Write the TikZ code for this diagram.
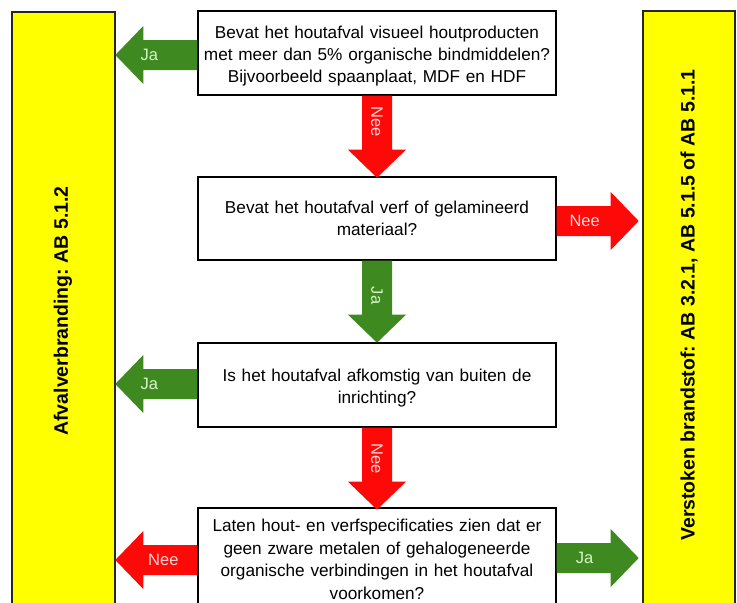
\documentclass[tikz,border=0pt]{standalone}
\usepackage{fontspec}
\setmainfont{Liberation Sans}
\usetikzlibrary{calc}
\frenchspacing
\definecolor{arrgreen}{RGB}{62,138,32}
\definecolor{arrred}{RGB}{255,8,8}
\definecolor{ylw}{RGB}{255,255,0}
\definecolor{jatext}{RGB}{215,245,200}
\definecolor{neetext}{RGB}{255,215,215}
\tikzset{
  qbox/.style={draw=black, line width=1.4pt, fill=white, minimum width=358pt, inner sep=0pt},
  qtext/.style={text width=356pt, align=center, inner sep=0pt,
    font=\fontsize{17.2}{22}\selectfont},
  outbox/.style={draw=black!85, line width=1.6pt, fill=ylw, inner sep=0pt},
  outlabel/.style={rotate=90, font=\fontsize{19.5}{22}\selectfont\bfseries},
  arrlabel/.style={font=\fontsize{16.5}{18}\selectfont},
  jalabel/.style={arrlabel, text=jatext},
  neelabel/.style={arrlabel, text=neetext},
}
% #1 colour, #2 start point, #3 angle, #4 label distance, #5 label style, #6 text
\newcommand\blockarrow[6]{%
  \begin{scope}[shift={(#2)}, rotate=#3]
    \fill[#1] (0,-15) -- (54,-15) -- (54,-29) -- (82,0) -- (54,29) -- (54,15) -- (0,15) -- cycle;
    \node[#5] at (#4,0) {#6};
  \end{scope}}
\begin{document}
\begin{tikzpicture}[x=1pt,y=-1pt]
  \useasboundingbox (0,0) rectangle (737,603);
  \clip (0,0) rectangle (737,603);
  \fill[white] (0,0) rectangle (737,603);

  % outcome boxes
  \node[outbox, minimum width=103pt, minimum height=620pt, anchor=north west] (L) at (11,11) {};
  \node[outlabel] (Ltxt) at (63,311) {Afvalverbranding: AB 5.1.2};
  \node[outbox, minimum width=92pt, minimum height=620pt, anchor=north west] (R) at (642,10) {};
  \node[outlabel] (Rtxt) at (689,305) {Verstoken brandstof: AB 3.2.1, AB 5.1.5 of AB 5.1.1};

  % question boxes
  \node[qbox, minimum height=84pt,
    label={[qtext, yshift=-3.5pt]center:{Bevat het houtafval visueel houtproducten\\met meer dan 5\% organische bindmiddelen?\\Bijvoorbeeld spaanplaat, MDF en HDF}}]
    (b1) at (377,53) {};
  \node[qbox, minimum height=83pt,
    label={[qtext]center:{Bevat het houtafval verf of gelamineerd\\materiaal?}}]
    (b2) at (377,218.5) {};
  \node[qbox, minimum height=84pt,
    label={[qtext, yshift=-3pt]center:{Is het houtafval afkomstig van buiten de\\inrichting?}}]
    (b3) at (377,385) {};
  \node[qbox, minimum height=106pt,
    label={[qtext, font=\fontsize{17.2}{22.5}\selectfont, yshift=1.5pt]center:{Laten hout- en verfspecificaties zien dat er\\geen zware metalen of gehalogeneerde\\organische verbindingen in het houtafval\\voorkomen?}}]
    (b4) at (377,561) {};

  % arrows
  \blockarrow{arrgreen}{$(b1.west)+(0,2)$}{180}{48}{jalabel}{Ja}
  \blockarrow{arrred}{b1.south}{-90}{26}{neelabel, rotate=-90}{Nee}
  \blockarrow{arrred}{$(b2.east)+(0,2.5)$}{0}{28}{neelabel}{Nee}
  \blockarrow{arrgreen}{b2.south}{-90}{35}{jalabel, rotate=-90}{Ja}
  \blockarrow{arrgreen}{$(b3.west)+(0,-1)$}{180}{48}{jalabel}{Ja}
  \blockarrow{arrred}{b3.south}{-90}{31}{neelabel, rotate=-90}{Nee}
  \blockarrow{arrred}{$(b4.west)+(0,-1)$}{180}{34}{neelabel}{Nee}
  \blockarrow{arrgreen}{$(b4.east)+(0,-3)$}{0}{28}{jalabel}{Ja}
\end{tikzpicture}
\end{document}
